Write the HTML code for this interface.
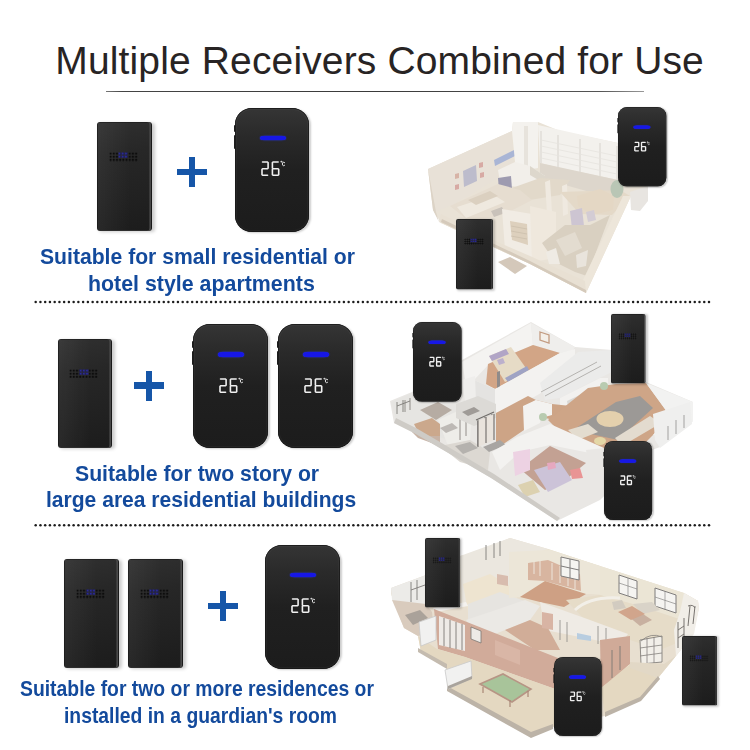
<!DOCTYPE html>
<html><head><meta charset="utf-8">
<style>
html,body{margin:0;padding:0;background:#fff;}
body{width:750px;height:750px;position:relative;overflow:hidden;font-family:"Liberation Sans",sans-serif;}
.houses{position:absolute;left:0;top:0;}
.title{position:absolute;left:55.3px;top:39.2px;font-size:39px;letter-spacing:0.14px;color:#282424;white-space:nowrap;line-height:44px;}
.uline{position:absolute;left:106px;top:90.7px;width:538px;height:1.6px;background:linear-gradient(90deg,#777,#444 3%,#3a3a3a 50%,#555 92%,#999);}
.blue{position:absolute;color:#134a9c;font-weight:bold;white-space:nowrap;}
.l21{font-size:21px;line-height:24px;}
.l19{font-size:19.3px;line-height:22px;}
.dots{position:absolute;left:34.2px;width:677px;height:3px;background:radial-gradient(circle at 1.3px 1.3px,#1a1a1a 0.95px,rgba(0,0,0,0.45) 1.4px,transparent 1.8px);background-size:4.742px 3px;}
.plus{position:absolute;width:30px;height:30px;}
.plus:before{content:"";position:absolute;left:0;top:11.8px;width:30px;height:6.3px;background:#1656a8;}
.plus:after{content:"";position:absolute;left:11.9px;top:0;width:6.4px;height:30px;background:#1656a8;}
.tx{position:absolute;width:54.6px;height:109px;border-radius:3px;transform-origin:0 0;
 background:linear-gradient(90deg,rgba(255,255,255,0.05),rgba(255,255,255,0) 60%),linear-gradient(170deg,#303030 0%,#272727 30%,#212121 70%,#1c1c1c 100%);
 box-shadow:2.5px 1px 3.5px rgba(0,0,0,0.2), inset -0.9px 0 0 #161616, inset -2.6px 0 0 #4a4a4a, inset 0 -1px 0 #2e2e2e, inset 0 0 0 0.6px #151515;}
.tx .grille{position:absolute;left:11.6px;top:30px;width:29px;height:9.6px;
 background:radial-gradient(circle at 1.6px 1.6px,#0d0d0d 0.75px,rgba(13,13,13,0.5) 1.1px,transparent 1.4px);background-size:3.2px 3.15px;}
.tx .led{position:absolute;left:21.2px;top:30px;width:9.6px;height:6.3px;background:rgba(40,40,160,0.18);}
.tx .led:before{content:"";position:absolute;left:0;top:0;width:9.6px;height:6.3px;
 background:radial-gradient(circle at 1.6px 1.6px,#2a2a95 0.75px,rgba(42,42,149,0.45) 1.1px,transparent 1.45px);background-size:3.2px 3.15px;}
.rx{position:absolute;width:74.6px;height:124.3px;border-radius:17px/16px;transform-origin:0 0;
 background:linear-gradient(180deg,#353535 0%,#2a2a2a 22%,#202020 50%,#1c1c1c 100%);
 box-shadow:1.5px 1px 2px rgba(0,0,0,0.2), inset 0 0 0 0.7px #161616, inset 0 0 0 2px rgba(255,255,255,0.03);}
.rx .bar{position:absolute;left:25px;top:28.4px;width:26px;height:4.6px;border-radius:5px/2.3px;background:#1717e6;box-shadow:0 0 1.2px 0.2px #2030f0;filter:blur(0.35px);}
.rx svg{position:absolute;left:25px;top:53.5px;width:26px;height:15px;overflow:visible;}
.rx .btn{position:absolute;left:-0.6px;width:1.5px;background:#1e1e1e;border-radius:1px;}
.rxs{border-radius:14px/14px;}
.rxs svg{left:24px;}
.rxs svg g{stroke-width:2.1;}
.rxs .bar{height:5px;top:28.5px;left:24.3px;}

</style></head>
<body>
<div class="title">Multiple Receivers Combined for Use</div>
<div class="uline"></div>
<svg class="houses" width="750" height="750" viewBox="0 0 750 750"><defs><filter id="bl" x="-5%" y="-5%" width="110%" height="110%"><feGaussianBlur stdDeviation="0.7"/></filter><filter id="db" x="-1%" y="-1%" width="102%" height="102%"><feGaussianBlur stdDeviation="0.35"/></filter></defs><g filter="url(#bl)"><g id="h1">
<!-- base silhouette -->
<polygon fill="#e9e2d6" points="428,169 512,131 513,122 538,122 560,131 618,143 640,170 648,186 631,196 586,293 530,264 441,223 433,210"/>
<!-- left wall face -->
<polygon fill="#e8e1d7" points="428,169 512,131 514,170 498,178 470,195 450,206 436,212"/>
<polygon fill="#dcd3c6" points="428,169 433,210 439,222 436,212"/>
<!-- wall art -->
<polygon fill="#bdbccc" points="463,171 476,165 477,181 464,187"/>
<polygon fill="#d7b3a6" points="455,174 459,173 459,178 455,179"/>
<polygon fill="#d7aaa4" points="455,185 459,184 459,189 455,190"/>
<polygon fill="#d7aaa4" points="479,163 483,162 483,167 479,168"/>
<polygon fill="#d7aaa4" points="480,173 484,172 484,177 480,178"/>
<!-- blue banner -->
<polygon fill="#a9b5d5" points="494,160 516,149 517,155 495,166"/>
<!-- column -->
<polygon fill="#f4f2ee" points="512,131 513,122 538,122 538,168 516,172"/>
<polygon fill="#e7e3dc" points="524,126 528,126 528,170 524,171"/>
<!-- back wall windows -->
<polygon fill="#f3f1ed" points="538,125 618,143 618,180 560,168 540,163"/>
<g stroke="#dedad4" stroke-width="1.3"><path d="M541,131V163M558,135V167M580,139V172M600,143V176M617,146V180"/></g>
<g stroke="#e6e3de" stroke-width="0.8"><path d="M541,140L617,156M541,146L617,162M541,152L617,168M541,158L617,174"/></g>
<polygon fill="#ddd6cc" points="540,163 618,180 618,196 590,192 540,178"/>
<!-- bed area -->
<polygon fill="#f2efea" points="498,170 515,162 530,166 545,176 528,188 510,186 500,182"/>
<polygon fill="#ddd7cc" points="530,166 545,176 545,184 530,175"/>
<!-- TV -->
<polygon fill="#9e9bb0" points="498,178 511,176 512,189 499,191"/>
<!-- floor under bed/back -->
<polygon fill="#e2d9ca" points="512,188 540,178 570,180 560,195 530,200 515,197"/>
<!-- living room -->
<polygon fill="#e6ddd0" points="450,206 498,184 520,190 532,200 505,214 470,222"/>
<polygon fill="#efe9df" points="457,207 494,195 505,202 466,218"/>
<polygon fill="#c9c2ba" points="491,211 502,207 505,213 494,217"/>
<polygon fill="#dbd0c0" points="468,200 490,191 498,196 476,205"/>
<!-- door partition with slats -->
<polygon fill="#f1ece4" points="502,209 532,214 533,262 505,250"/>
<polygon fill="#ddd0bd" points="510,221 527,224 528,245 512,240"/>
<g stroke="#ccbfac" stroke-width="0.8"><path d="M511,226L527,229M511,231L527,234M511,236L527,239"/></g>
<!-- partitions (upper middle) -->
<polygon fill="#efe9e0" points="545,182 550,180 552,212 547,214"/>
<polygon fill="#efe9e0" points="562,186 567,184 568,214 563,216"/>
<!-- right-upper floor -->
<polygon fill="#e4d9c8" points="560,192 620,190 630,196 612,215 580,214"/>
<!-- kitchen table -->
<polygon fill="#e4d7c4" points="577,196 600,189 614,196 613,210 592,215 578,206"/>
<polygon fill="#cdc5d2" points="570,211 582,208 584,226 572,229"/>
<polygon fill="#d3ccd4" points="586,212 594,210 596,220 588,222"/>
<!-- left lower floor cream -->
<polygon fill="#efe8dd" points="530,206 556,212 556,258 532,262"/>
<!-- inner room lower right -->
<polygon fill="#d9d0c1" points="542,243 565,225 590,225 610,215 587,276 575,272 555,262"/>
<polygon fill="#e3dcd0" points="556,240 575,232 582,248 565,256"/>
<polygon fill="#efebe4" points="546,252 556,248 560,264 549,264"/>
<polygon fill="#e9e4dc" points="576,255 588,250 586,266 577,268"/>
<!-- plant -->
<ellipse cx="617" cy="189" rx="6.5" ry="9" fill="#b9c6b5"/>
<!-- right outer wall -->
<polygon fill="#ede6da" points="623,196 631,196 586,293 583,280"/>
<polygon fill="#e8e5e1" points="630,192 648,186 648,201 640,211 631,210"/>
<!-- front walls -->
<polygon fill="#e8e0d3" points="439,222 441,214 500,243 530,256 585,281 586,293 530,264"/>
<polygon fill="#d5cabb" points="441,222 530,264 586,293 586,290 530,261 442,219"/>
<!-- door mat -->
<polygon fill="#d4c8ba" points="498,262 510,257 527,266 515,274"/>
</g>
<g id="h2">
<!-- base silhouette -->
<polygon fill="#e9e7e4" points="390,401 412,392 462,360 531,322 575,347 612,350 646,382 693,402 693,421 660,447 652,450 600,500 557,521 491,478 438,447 414,433 394,423"/>
<!-- back bedroom -->
<polygon fill="#f4f3f1" points="462,362 531,323 533,345 490,363 474,380 466,384"/>
<polygon fill="#efeeec" points="531,323 575,347 573,350 560,353 533,345"/>
<polygon fill="#f3efe9" stroke="#c39c82" stroke-width="1.3" points="540,332 549,335 549,343 540,340"/>
<polygon fill="#d2a586" points="488,364 533,345 560,353 495,389 486,384"/>
<polygon fill="#e6dbc6" points="489,356 511,347 528,371 505,382"/>
<polygon fill="#9fa3c4" points="505,378 527,366 529,370 508,382"/>
<polygon fill="#b1a5c6" points="489,356 506,349 509,354 492,361"/>
<polygon fill="#bcb0cc" points="497,360 503,358 505,363 499,365"/>
<polygon fill="#8f8b8a" points="497,372 500,371 500,392 497,391"/>
<!-- bedroom walls front -->
<polygon fill="#f3f2f0" points="474,380 495,389 560,353 575,349 575,380 560,382 534,397 496,413 474,403"/>
<polygon fill="#e4e3e1" points="474,380 495,389 495,413 474,403"/>
<!-- left block near receiver A -->
<polygon fill="#efeeec" points="462,380 475,376 476,402 466,408"/>
<!-- stairs area -->
<polygon fill="#ebebea" points="540,383 578,352 612,350 612,372 585,385 560,398 545,400"/>
<g stroke="#b5b3b0" stroke-width="1" fill="none"><path d="M541,392 L597,362"/><path d="M545,396 L601,366"/></g>
<!-- white TV wall -->
<polygon fill="#f2f1ef" points="560,398 600,378 608,378 608,395 570,414 560,410"/>
<polygon fill="#d9d8d5" points="567,401 584,393 585,400 568,407"/>
<!-- central hallway wood -->
<polygon fill="#cda486" points="474,403 496,413 528,396 536,400 524,407 524,430 502,445 496,447 496,418 478,410"/>
<polygon fill="#cda486" points="536,400 552,404 580,407 580,426 541,417"/>
<!-- partition white wall (center) -->
<polygon fill="#f3f2f0" points="523,406 536,400 552,404 552,415 541,418 540,423 524,431"/>
<!-- main living room wood -->
<polygon fill="#cea587" points="548,420 588,388 616,384 646,383 670,416 653,435 640,448 600,450 560,432"/>
<!-- rug -->
<polygon fill="#9c9996" points="573,430 616,402 640,396 653,408 618,440"/>
<ellipse cx="610" cy="419" rx="13.5" ry="8" fill="#e4d0ad"/>
<!-- sofa -->
<polygon fill="#e3dbcf" points="615,438 650,416 656,420 656,426 622,446"/>
<polygon fill="#e3dccf" points="568,430 588,424 598,432 578,440"/>
<ellipse cx="600" cy="441" rx="6" ry="4" fill="#e4d7a6"/>
<!-- right white walls/terrace -->
<polygon fill="#f2f2f1" points="646,383 693,402 693,421 668,436 653,435 670,416"/>
<polygon fill="#efefee" points="653,414 690,402 692,424 660,448 655,440"/>
<g stroke="#9a9896" stroke-width="0.9"><line x1="676" y1="420" x2="676" y2="434"/><line x1="684" y1="415" x2="684" y2="428"/><line x1="668" y1="426" x2="668" y2="440"/></g>
<!-- left rooms -->
<polygon fill="#e6e5e2" points="391,402 412,393 440,404 452,400 470,404 470,430 450,440 420,432 396,420"/>
<polygon fill="#b6aca3" points="420,410 438,402 452,410 436,420"/>
<polygon fill="#c8b3a5" points="412,432 430,424 440,432 440,446 418,438"/>
<polygon fill="#eeede9" points="438,420 460,410 472,414 470,440 448,446"/>
<g stroke="#88857f" stroke-width="0.9" fill="none"><path d="M460,418L460,440"/><path d="M466,414L466,436"/><path d="M405,400L405,412"/><path d="M410,398L410,410"/></g>
<polygon fill="#dcd8d2" points="440,446 470,440 490,452 488,470 460,462"/>
<polygon fill="#b5b2ae" points="455,446 470,442 478,448 463,454"/>
<!-- kitchen details -->
<polygon fill="#dcdad6" points="456,404 478,396 496,404 496,418 474,426 456,418"/>
<polygon fill="#9f9b97" points="462,412 474,407 480,411 468,416"/>
<g stroke="#6f6c69" stroke-width="1.1" fill="none"><path d="M478,420V446M485,417V443M492,414V440M476,420L494,412"/></g>
<polygon fill="#e9e3dc" points="478,421 494,414 494,440 478,447"/>
<g stroke="#6f6c69" stroke-width="1.1" fill="none"><path d="M478,421V447M486,417V443M494,414V440"/></g>
<polygon fill="#a8a5a2" points="483,447 500,440 506,445 489,452"/>
<polygon fill="#bdb9b5" points="440,428 452,423 458,428 446,433"/>
<g stroke="#7d7a77" stroke-width="0.9" fill="none"><path d="M397,402L397,414M403,400L403,412M397,406L410,401"/></g>
<polygon fill="#cba88c" points="414,424 432,418 440,424 440,436 420,436"/>
<!-- bottom bedroom -->
<polygon fill="#f3f2f0" points="492,452 517,437 550,424 604,448 600,455 550,445 520,452 500,470"/>
<polygon fill="#c3a193" points="520,469 550,446 586,463 563,482 545,490"/>
<polygon fill="#edd2e3" points="513,452 530,449 530,470 515,476"/>
<polygon fill="#ccc3d8" points="534,470 560,462 572,480 548,492"/>
<polygon fill="#e99494" points="570,470 580,468 583,478 572,479"/>
<polygon fill="#e6a8c0" points="547,463 555,462 556,468 548,470"/>
<polygon fill="#e9e7e4" points="586,450 604,448 604,470 590,474"/>
<polygon fill="#dcd1b0" points="518,485 533,480 540,492 525,497"/>
<!-- bottom-left outer edge shading -->
<polygon fill="#cecbc6" points="394,423 414,433 438,447 491,478 557,521 560,518 494,474 440,442 416,428 396,418"/>
<!-- plants -->
<ellipse cx="604" cy="386" rx="4" ry="4" fill="#b8cbb0"/>
<ellipse cx="543" cy="417" rx="4" ry="4" fill="#b8cbb0"/>
</g>
<g id="h3">
<!-- base silhouette -->
<polygon fill="#e8dfd0" points="391,588 426,575 460,556 471,554 510,538 548,549 600,566 684,593 698,601 699,608 693,634 676,656 658,678 627,664 605,716 553,726 531,736 447,690 447,668 421,652 418,636 404,628 391,594"/>
<!-- left room -->
<polygon fill="#ecebe8" points="391,588 426,575 426,604 405,612 392,600"/>
<g stroke="#7e7b78" stroke-width="0.9" fill="none"><path d="M411,582L411,602M417,580L417,600M411,590L425,585"/></g>
<polygon fill="#d9cbbd" points="392,600 426,604 432,612 434,630 418,636 404,628"/>
<polygon fill="#aaa29a" points="405,615 420,610 428,618 413,625"/>
<!-- left wing white rooms -->
<polygon fill="#ebe7df" points="460,556 510,538 548,549 540,568 510,585 490,600 462,606"/>
<g stroke="#7e7b78" stroke-width="0.9" fill="none"><path d="M486,545L486,560M494,543L494,558M500,541L500,556"/></g>
<polygon fill="#eee4d0" points="463,584 490,574 517,590 517,606 490,612 468,612"/>
<polygon fill="#d8bcae" points="497,574 508,576 508,586 497,584"/>
<polygon fill="#e6e4e0" points="468,604 500,592 527,602 527,622 492,630 468,620"/>
<!-- right wing back wall -->
<polygon fill="#ebe5d5" points="513,560 548,549 600,566 684,593 698,601 688,622 640,606 600,595 560,590 530,596"/>
<g fill="#f5f4f1" stroke="#7f7d7c" stroke-width="1">
<polygon points="562,556 579,561 579,577 562,572"/>
<polygon points="619,575 637,581 637,599 619,593"/>
<polygon points="655,588 676,595 676,613 655,606"/>
</g>
<g stroke="#8a8886" stroke-width="0.7"><path d="M570,558V575M628,578V596M665,591V610M562,564H579M619,583L637,589M655,597L676,604"/></g>
<!-- staircase room -->
<polygon fill="#ece6d8" points="509,552 549,550 600,566 600,594 586,594 545,581 520,597 509,598"/>
<polygon fill="#d8b5a0" points="528,563 548,560 580,574 581,591 545,581 528,580"/>
<g stroke="#f1ebe2" stroke-width="0.9"><path d="M534,562V574M540,561V576M552,563V580M560,566V583M568,569V586M575,572V589"/></g>
<polygon fill="#cea084" points="520,597 545,581 586,594 564,607 540,602"/>
<g fill="#f5f4f1" stroke="#7f7d7c" stroke-width="1"><polygon points="561,557 579,561 579,580 561,576"/><path d="M570,559V578M561,566L579,570" fill="none"/></g>
<!-- right wing floor -->
<polygon fill="#e6dcc8" points="566,600 600,595 640,606 688,622 684,640 660,650 630,640 590,625"/>
<path d="M575,610 Q590,596 620,598" stroke="#f2efe8" stroke-width="3" fill="none"/>
<polygon fill="#c8b0a0" points="628,616 640,612 652,620 640,626"/>
<polygon fill="#d2cbc0" points="612,602 622,600 626,608 614,610"/>
<polygon fill="#d9d3c8" points="633,604 652,602 660,610 642,614"/>
<!-- right end -->
<polygon fill="#f1eee8" points="684,593 698,601 699,608 694,634 684,646 676,656 674,630 680,612"/>
<g stroke="#77736f" stroke-width="1" fill="none"><path d="M690,606L688,626M695,606L693,624M688,606Q693,604 695,608M678,622L678,648M684,618L684,642M678,630L684,626M678,638L684,634"/></g>
<polygon fill="#f2efe9" stroke="#85817d" stroke-width="0.9" points="640,640 662,636 662,662 641,664"/>
<g stroke="#85817d" stroke-width="0.8" fill="none"><path d="M647,638V663M654,637V663M640,648L662,645M640,656L662,653M641,641Q651,632 662,637"/></g>
<polygon fill="#d1a58c" points="618,612 632,606 645,614 631,620"/>
<!-- middle wing rooms -->
<polygon fill="#ebe9e5" points="466,620 490,612 525,600 540,606 530,620 505,630 480,640"/>
<polygon fill="#efebe5" points="540,602 590,620 628,634 620,645 575,636 545,630"/>
<polygon fill="#d1ad98" points="505,630 530,620 548,628 560,650 535,650"/>
<polygon fill="#d8b4a4" points="542,612 553,614 553,630 542,628"/>
<polygon fill="#b8cde0" points="577,633 591,636 591,641 577,639"/>
<g stroke="#8a8886" stroke-width="0.8"><path d="M560,620V640M567,622V642M598,626V644M606,628V646"/></g>
<polygon fill="#f4f2ef" points="433,608 466,602 468,606 436,612"/>
<!-- brick front wall -->
<polygon fill="#d1ab9a" points="434,609 558,658 558,690 465,657 438,649"/>
<polygon fill="#eeeae6" points="439,616 465,625 465,651 439,645"/>
<g stroke="#7c7874" stroke-width="0.9"><path d="M444,618V646M450,620V648M456,622V649M462,624V650"/></g>
<polygon fill="#eeeae6" stroke="#7c7874" stroke-width="0.8" points="471,627 481,631 481,643 471,639"/>
<polygon fill="#d9b6a6" points="495,640 520,650 520,665 495,655"/>
<!-- right brick wall -->
<polygon fill="#d0aa98" points="600,640 630,636 630,664 612,680 601,688"/>
<g stroke="#7c7874" stroke-width="0.9"><path d="M612,650V678M620,646V670"/></g>
<!-- terrace -->
<polygon fill="#e4d8c1" points="418,636 437,649 465,657 558,690 556,726 531,734 447,690 447,668 421,652"/>
<polygon fill="#e4d8c1" points="601,688 630,664 658,678 640,700 605,716"/>
<polygon fill="#e2d8c6" points="630,662 664,664 676,656 658,678 630,668"/>
<!-- terrace edges -->
<polygon fill="#bcb3a7" points="447,686 531,732 553,724 553,729 531,738 447,691"/>
<polygon fill="#bcb3a7" points="605,712 640,697 658,676 660,679 641,701 605,717"/>
<polygon fill="#c4bbaf" points="418,648 447,664 447,669 418,652"/>
<!-- billiard table -->
<polygon fill="#a8c49a" points="480,684 503,674 531,689 512,702"/>
<polygon fill="none" stroke="#b79585" stroke-width="1.6" points="480,684 503,674 531,689 512,702"/>
<g stroke="#a98776" stroke-width="1.2"><path d="M483,687V693M510,700V707M528,691V697"/></g>
<!-- balcony glass -->
<polygon fill="#f1f1f0" stroke="#c9c9c9" stroke-width="0.8" points="445,670 471,661 472,678 448,689"/>
<polygon fill="#a9a39c" points="448,686 472,676 472,679 448,689"/>
<polygon fill="#f1f1f0" stroke="#c9c9c9" stroke-width="0.8" points="419,622 436,616 436,640 421,646"/>
</g>
</g></svg>
<div class="tx" style="left:97px;top:122px;"><div class="grille"></div><div class="led"></div></div>
<div class="plus" style="left:176.8px;top:157.4px;"></div>
<div class="rx" style="left:234.8px;top:107.5px;"><div class="btn" style="top:17px;height:7px"></div><div class="btn" style="top:27px;height:14px"></div><div class="bar"></div><svg viewBox="0 0 26 15"><g fill="none" stroke="#f0f0f0" stroke-width="1.6" stroke-linecap="round"><path d="M2.55,1.0L7.55,1.0M8.1,1.55L8.1,7.15M2.55,7.7L7.55,7.7M2.0,8.25L2.0,13.75M2.55,14.3L7.55,14.3M12.950000000000001,1.0L18.15,1.0M12.4,1.55L12.4,7.15M12.950000000000001,7.7L18.15,7.7M12.4,8.25L12.4,13.75M18.7,8.25L18.7,13.75M12.950000000000001,14.3L18.15,14.3"/><circle cx="21.3" cy="0.7" r="0.55" stroke-width="0.75"/><path d="M24.7,1.7Q24,1 23.2,1.2Q22.3,1.6 22.4,3.1Q22.5,4.6 23.4,4.7Q24.1,4.8 24.7,4.2" stroke-width="0.95"/></g></svg></div>
<svg class="houses" width="750" height="750" style="pointer-events:none"><g fill="#1e1e1e" filter="url(#db)"><circle cx="35.70" cy="302.1" r="1.25"/><circle cx="40.44" cy="302.1" r="1.25"/><circle cx="45.18" cy="302.1" r="1.25"/><circle cx="49.92" cy="302.1" r="1.25"/><circle cx="54.67" cy="302.1" r="1.25"/><circle cx="59.41" cy="302.1" r="1.25"/><circle cx="64.15" cy="302.1" r="1.25"/><circle cx="68.89" cy="302.1" r="1.25"/><circle cx="73.63" cy="302.1" r="1.25"/><circle cx="78.37" cy="302.1" r="1.25"/><circle cx="83.12" cy="302.1" r="1.25"/><circle cx="87.86" cy="302.1" r="1.25"/><circle cx="92.60" cy="302.1" r="1.25"/><circle cx="97.34" cy="302.1" r="1.25"/><circle cx="102.08" cy="302.1" r="1.25"/><circle cx="106.82" cy="302.1" r="1.25"/><circle cx="111.56" cy="302.1" r="1.25"/><circle cx="116.31" cy="302.1" r="1.25"/><circle cx="121.05" cy="302.1" r="1.25"/><circle cx="125.79" cy="302.1" r="1.25"/><circle cx="130.53" cy="302.1" r="1.25"/><circle cx="135.27" cy="302.1" r="1.25"/><circle cx="140.01" cy="302.1" r="1.25"/><circle cx="144.75" cy="302.1" r="1.25"/><circle cx="149.50" cy="302.1" r="1.25"/><circle cx="154.24" cy="302.1" r="1.25"/><circle cx="158.98" cy="302.1" r="1.25"/><circle cx="163.72" cy="302.1" r="1.25"/><circle cx="168.46" cy="302.1" r="1.25"/><circle cx="173.20" cy="302.1" r="1.25"/><circle cx="177.94" cy="302.1" r="1.25"/><circle cx="182.69" cy="302.1" r="1.25"/><circle cx="187.43" cy="302.1" r="1.25"/><circle cx="192.17" cy="302.1" r="1.25"/><circle cx="196.91" cy="302.1" r="1.25"/><circle cx="201.65" cy="302.1" r="1.25"/><circle cx="206.39" cy="302.1" r="1.25"/><circle cx="211.14" cy="302.1" r="1.25"/><circle cx="215.88" cy="302.1" r="1.25"/><circle cx="220.62" cy="302.1" r="1.25"/><circle cx="225.36" cy="302.1" r="1.25"/><circle cx="230.10" cy="302.1" r="1.25"/><circle cx="234.84" cy="302.1" r="1.25"/><circle cx="239.58" cy="302.1" r="1.25"/><circle cx="244.33" cy="302.1" r="1.25"/><circle cx="249.07" cy="302.1" r="1.25"/><circle cx="253.81" cy="302.1" r="1.25"/><circle cx="258.55" cy="302.1" r="1.25"/><circle cx="263.29" cy="302.1" r="1.25"/><circle cx="268.03" cy="302.1" r="1.25"/><circle cx="272.78" cy="302.1" r="1.25"/><circle cx="277.52" cy="302.1" r="1.25"/><circle cx="282.26" cy="302.1" r="1.25"/><circle cx="287.00" cy="302.1" r="1.25"/><circle cx="291.74" cy="302.1" r="1.25"/><circle cx="296.48" cy="302.1" r="1.25"/><circle cx="301.22" cy="302.1" r="1.25"/><circle cx="305.97" cy="302.1" r="1.25"/><circle cx="310.71" cy="302.1" r="1.25"/><circle cx="315.45" cy="302.1" r="1.25"/><circle cx="320.19" cy="302.1" r="1.25"/><circle cx="324.93" cy="302.1" r="1.25"/><circle cx="329.67" cy="302.1" r="1.25"/><circle cx="334.41" cy="302.1" r="1.25"/><circle cx="339.16" cy="302.1" r="1.25"/><circle cx="343.90" cy="302.1" r="1.25"/><circle cx="348.64" cy="302.1" r="1.25"/><circle cx="353.38" cy="302.1" r="1.25"/><circle cx="358.12" cy="302.1" r="1.25"/><circle cx="362.86" cy="302.1" r="1.25"/><circle cx="367.61" cy="302.1" r="1.25"/><circle cx="372.35" cy="302.1" r="1.25"/><circle cx="377.09" cy="302.1" r="1.25"/><circle cx="381.83" cy="302.1" r="1.25"/><circle cx="386.57" cy="302.1" r="1.25"/><circle cx="391.31" cy="302.1" r="1.25"/><circle cx="396.05" cy="302.1" r="1.25"/><circle cx="400.80" cy="302.1" r="1.25"/><circle cx="405.54" cy="302.1" r="1.25"/><circle cx="410.28" cy="302.1" r="1.25"/><circle cx="415.02" cy="302.1" r="1.25"/><circle cx="419.76" cy="302.1" r="1.25"/><circle cx="424.50" cy="302.1" r="1.25"/><circle cx="429.24" cy="302.1" r="1.25"/><circle cx="433.99" cy="302.1" r="1.25"/><circle cx="438.73" cy="302.1" r="1.25"/><circle cx="443.47" cy="302.1" r="1.25"/><circle cx="448.21" cy="302.1" r="1.25"/><circle cx="452.95" cy="302.1" r="1.25"/><circle cx="457.69" cy="302.1" r="1.25"/><circle cx="462.44" cy="302.1" r="1.25"/><circle cx="467.18" cy="302.1" r="1.25"/><circle cx="471.92" cy="302.1" r="1.25"/><circle cx="476.66" cy="302.1" r="1.25"/><circle cx="481.40" cy="302.1" r="1.25"/><circle cx="486.14" cy="302.1" r="1.25"/><circle cx="490.88" cy="302.1" r="1.25"/><circle cx="495.63" cy="302.1" r="1.25"/><circle cx="500.37" cy="302.1" r="1.25"/><circle cx="505.11" cy="302.1" r="1.25"/><circle cx="509.85" cy="302.1" r="1.25"/><circle cx="514.59" cy="302.1" r="1.25"/><circle cx="519.33" cy="302.1" r="1.25"/><circle cx="524.07" cy="302.1" r="1.25"/><circle cx="528.82" cy="302.1" r="1.25"/><circle cx="533.56" cy="302.1" r="1.25"/><circle cx="538.30" cy="302.1" r="1.25"/><circle cx="543.04" cy="302.1" r="1.25"/><circle cx="547.78" cy="302.1" r="1.25"/><circle cx="552.52" cy="302.1" r="1.25"/><circle cx="557.27" cy="302.1" r="1.25"/><circle cx="562.01" cy="302.1" r="1.25"/><circle cx="566.75" cy="302.1" r="1.25"/><circle cx="571.49" cy="302.1" r="1.25"/><circle cx="576.23" cy="302.1" r="1.25"/><circle cx="580.97" cy="302.1" r="1.25"/><circle cx="585.71" cy="302.1" r="1.25"/><circle cx="590.46" cy="302.1" r="1.25"/><circle cx="595.20" cy="302.1" r="1.25"/><circle cx="599.94" cy="302.1" r="1.25"/><circle cx="604.68" cy="302.1" r="1.25"/><circle cx="609.42" cy="302.1" r="1.25"/><circle cx="614.16" cy="302.1" r="1.25"/><circle cx="618.90" cy="302.1" r="1.25"/><circle cx="623.65" cy="302.1" r="1.25"/><circle cx="628.39" cy="302.1" r="1.25"/><circle cx="633.13" cy="302.1" r="1.25"/><circle cx="637.87" cy="302.1" r="1.25"/><circle cx="642.61" cy="302.1" r="1.25"/><circle cx="647.35" cy="302.1" r="1.25"/><circle cx="652.10" cy="302.1" r="1.25"/><circle cx="656.84" cy="302.1" r="1.25"/><circle cx="661.58" cy="302.1" r="1.25"/><circle cx="666.32" cy="302.1" r="1.25"/><circle cx="671.06" cy="302.1" r="1.25"/><circle cx="675.80" cy="302.1" r="1.25"/><circle cx="680.54" cy="302.1" r="1.25"/><circle cx="685.29" cy="302.1" r="1.25"/><circle cx="690.03" cy="302.1" r="1.25"/><circle cx="694.77" cy="302.1" r="1.25"/><circle cx="699.51" cy="302.1" r="1.25"/><circle cx="704.25" cy="302.1" r="1.25"/><circle cx="708.99" cy="302.1" r="1.25"/></g></svg>
<div class="rx rxs" style="left:618.3px;top:107px;transform:scale(0.646,0.642);"><div class="btn" style="top:17px;height:7px"></div><div class="btn" style="top:27px;height:14px"></div><div class="bar"></div><svg viewBox="0 0 26 15"><g fill="none" stroke="#f0f0f0" stroke-width="1.6" stroke-linecap="round"><path d="M2.55,1.0L7.55,1.0M8.1,1.55L8.1,7.15M2.55,7.7L7.55,7.7M2.0,8.25L2.0,13.75M2.55,14.3L7.55,14.3M12.950000000000001,1.0L18.15,1.0M12.4,1.55L12.4,7.15M12.950000000000001,7.7L18.15,7.7M12.4,8.25L12.4,13.75M18.7,8.25L18.7,13.75M12.950000000000001,14.3L18.15,14.3"/><circle cx="21.3" cy="0.7" r="0.55" stroke-width="0.75"/><path d="M24.7,1.7Q24,1 23.2,1.2Q22.3,1.6 22.4,3.1Q22.5,4.6 23.4,4.7Q24.1,4.8 24.7,4.2" stroke-width="0.95"/></g></svg></div>
<div class="tx" style="left:455.6px;top:219px;transform:scale(0.674,0.647);"><div class="grille"></div><div class="led"></div></div>
<div class="tx" style="left:57.8px;top:338.5px;"><div class="grille"></div><div class="led"></div></div>
<div class="plus" style="left:134.1px;top:370.7px;"></div>
<div class="rx" style="left:193px;top:324px;"><div class="btn" style="top:17px;height:7px"></div><div class="btn" style="top:27px;height:14px"></div><div class="bar"></div><svg viewBox="0 0 26 15"><g fill="none" stroke="#f0f0f0" stroke-width="1.6" stroke-linecap="round"><path d="M2.55,1.0L7.55,1.0M8.1,1.55L8.1,7.15M2.55,7.7L7.55,7.7M2.0,8.25L2.0,13.75M2.55,14.3L7.55,14.3M12.950000000000001,1.0L18.15,1.0M12.4,1.55L12.4,7.15M12.950000000000001,7.7L18.15,7.7M12.4,8.25L12.4,13.75M18.7,8.25L18.7,13.75M12.950000000000001,14.3L18.15,14.3"/><circle cx="21.3" cy="0.7" r="0.55" stroke-width="0.75"/><path d="M24.7,1.7Q24,1 23.2,1.2Q22.3,1.6 22.4,3.1Q22.5,4.6 23.4,4.7Q24.1,4.8 24.7,4.2" stroke-width="0.95"/></g></svg></div>
<div class="rx" style="left:278px;top:324px;"><div class="btn" style="top:17px;height:7px"></div><div class="btn" style="top:27px;height:14px"></div><div class="bar"></div><svg viewBox="0 0 26 15"><g fill="none" stroke="#f0f0f0" stroke-width="1.6" stroke-linecap="round"><path d="M2.55,1.0L7.55,1.0M8.1,1.55L8.1,7.15M2.55,7.7L7.55,7.7M2.0,8.25L2.0,13.75M2.55,14.3L7.55,14.3M12.950000000000001,1.0L18.15,1.0M12.4,1.55L12.4,7.15M12.950000000000001,7.7L18.15,7.7M12.4,8.25L12.4,13.75M18.7,8.25L18.7,13.75M12.950000000000001,14.3L18.15,14.3"/><circle cx="21.3" cy="0.7" r="0.55" stroke-width="0.75"/><path d="M24.7,1.7Q24,1 23.2,1.2Q22.3,1.6 22.4,3.1Q22.5,4.6 23.4,4.7Q24.1,4.8 24.7,4.2" stroke-width="0.95"/></g></svg></div>
<svg class="houses" width="750" height="750" style="pointer-events:none"><g fill="#1e1e1e" filter="url(#db)"><circle cx="35.70" cy="525.2" r="1.25"/><circle cx="40.44" cy="525.2" r="1.25"/><circle cx="45.18" cy="525.2" r="1.25"/><circle cx="49.92" cy="525.2" r="1.25"/><circle cx="54.67" cy="525.2" r="1.25"/><circle cx="59.41" cy="525.2" r="1.25"/><circle cx="64.15" cy="525.2" r="1.25"/><circle cx="68.89" cy="525.2" r="1.25"/><circle cx="73.63" cy="525.2" r="1.25"/><circle cx="78.37" cy="525.2" r="1.25"/><circle cx="83.12" cy="525.2" r="1.25"/><circle cx="87.86" cy="525.2" r="1.25"/><circle cx="92.60" cy="525.2" r="1.25"/><circle cx="97.34" cy="525.2" r="1.25"/><circle cx="102.08" cy="525.2" r="1.25"/><circle cx="106.82" cy="525.2" r="1.25"/><circle cx="111.56" cy="525.2" r="1.25"/><circle cx="116.31" cy="525.2" r="1.25"/><circle cx="121.05" cy="525.2" r="1.25"/><circle cx="125.79" cy="525.2" r="1.25"/><circle cx="130.53" cy="525.2" r="1.25"/><circle cx="135.27" cy="525.2" r="1.25"/><circle cx="140.01" cy="525.2" r="1.25"/><circle cx="144.75" cy="525.2" r="1.25"/><circle cx="149.50" cy="525.2" r="1.25"/><circle cx="154.24" cy="525.2" r="1.25"/><circle cx="158.98" cy="525.2" r="1.25"/><circle cx="163.72" cy="525.2" r="1.25"/><circle cx="168.46" cy="525.2" r="1.25"/><circle cx="173.20" cy="525.2" r="1.25"/><circle cx="177.94" cy="525.2" r="1.25"/><circle cx="182.69" cy="525.2" r="1.25"/><circle cx="187.43" cy="525.2" r="1.25"/><circle cx="192.17" cy="525.2" r="1.25"/><circle cx="196.91" cy="525.2" r="1.25"/><circle cx="201.65" cy="525.2" r="1.25"/><circle cx="206.39" cy="525.2" r="1.25"/><circle cx="211.14" cy="525.2" r="1.25"/><circle cx="215.88" cy="525.2" r="1.25"/><circle cx="220.62" cy="525.2" r="1.25"/><circle cx="225.36" cy="525.2" r="1.25"/><circle cx="230.10" cy="525.2" r="1.25"/><circle cx="234.84" cy="525.2" r="1.25"/><circle cx="239.58" cy="525.2" r="1.25"/><circle cx="244.33" cy="525.2" r="1.25"/><circle cx="249.07" cy="525.2" r="1.25"/><circle cx="253.81" cy="525.2" r="1.25"/><circle cx="258.55" cy="525.2" r="1.25"/><circle cx="263.29" cy="525.2" r="1.25"/><circle cx="268.03" cy="525.2" r="1.25"/><circle cx="272.78" cy="525.2" r="1.25"/><circle cx="277.52" cy="525.2" r="1.25"/><circle cx="282.26" cy="525.2" r="1.25"/><circle cx="287.00" cy="525.2" r="1.25"/><circle cx="291.74" cy="525.2" r="1.25"/><circle cx="296.48" cy="525.2" r="1.25"/><circle cx="301.22" cy="525.2" r="1.25"/><circle cx="305.97" cy="525.2" r="1.25"/><circle cx="310.71" cy="525.2" r="1.25"/><circle cx="315.45" cy="525.2" r="1.25"/><circle cx="320.19" cy="525.2" r="1.25"/><circle cx="324.93" cy="525.2" r="1.25"/><circle cx="329.67" cy="525.2" r="1.25"/><circle cx="334.41" cy="525.2" r="1.25"/><circle cx="339.16" cy="525.2" r="1.25"/><circle cx="343.90" cy="525.2" r="1.25"/><circle cx="348.64" cy="525.2" r="1.25"/><circle cx="353.38" cy="525.2" r="1.25"/><circle cx="358.12" cy="525.2" r="1.25"/><circle cx="362.86" cy="525.2" r="1.25"/><circle cx="367.61" cy="525.2" r="1.25"/><circle cx="372.35" cy="525.2" r="1.25"/><circle cx="377.09" cy="525.2" r="1.25"/><circle cx="381.83" cy="525.2" r="1.25"/><circle cx="386.57" cy="525.2" r="1.25"/><circle cx="391.31" cy="525.2" r="1.25"/><circle cx="396.05" cy="525.2" r="1.25"/><circle cx="400.80" cy="525.2" r="1.25"/><circle cx="405.54" cy="525.2" r="1.25"/><circle cx="410.28" cy="525.2" r="1.25"/><circle cx="415.02" cy="525.2" r="1.25"/><circle cx="419.76" cy="525.2" r="1.25"/><circle cx="424.50" cy="525.2" r="1.25"/><circle cx="429.24" cy="525.2" r="1.25"/><circle cx="433.99" cy="525.2" r="1.25"/><circle cx="438.73" cy="525.2" r="1.25"/><circle cx="443.47" cy="525.2" r="1.25"/><circle cx="448.21" cy="525.2" r="1.25"/><circle cx="452.95" cy="525.2" r="1.25"/><circle cx="457.69" cy="525.2" r="1.25"/><circle cx="462.44" cy="525.2" r="1.25"/><circle cx="467.18" cy="525.2" r="1.25"/><circle cx="471.92" cy="525.2" r="1.25"/><circle cx="476.66" cy="525.2" r="1.25"/><circle cx="481.40" cy="525.2" r="1.25"/><circle cx="486.14" cy="525.2" r="1.25"/><circle cx="490.88" cy="525.2" r="1.25"/><circle cx="495.63" cy="525.2" r="1.25"/><circle cx="500.37" cy="525.2" r="1.25"/><circle cx="505.11" cy="525.2" r="1.25"/><circle cx="509.85" cy="525.2" r="1.25"/><circle cx="514.59" cy="525.2" r="1.25"/><circle cx="519.33" cy="525.2" r="1.25"/><circle cx="524.07" cy="525.2" r="1.25"/><circle cx="528.82" cy="525.2" r="1.25"/><circle cx="533.56" cy="525.2" r="1.25"/><circle cx="538.30" cy="525.2" r="1.25"/><circle cx="543.04" cy="525.2" r="1.25"/><circle cx="547.78" cy="525.2" r="1.25"/><circle cx="552.52" cy="525.2" r="1.25"/><circle cx="557.27" cy="525.2" r="1.25"/><circle cx="562.01" cy="525.2" r="1.25"/><circle cx="566.75" cy="525.2" r="1.25"/><circle cx="571.49" cy="525.2" r="1.25"/><circle cx="576.23" cy="525.2" r="1.25"/><circle cx="580.97" cy="525.2" r="1.25"/><circle cx="585.71" cy="525.2" r="1.25"/><circle cx="590.46" cy="525.2" r="1.25"/><circle cx="595.20" cy="525.2" r="1.25"/><circle cx="599.94" cy="525.2" r="1.25"/><circle cx="604.68" cy="525.2" r="1.25"/><circle cx="609.42" cy="525.2" r="1.25"/><circle cx="614.16" cy="525.2" r="1.25"/><circle cx="618.90" cy="525.2" r="1.25"/><circle cx="623.65" cy="525.2" r="1.25"/><circle cx="628.39" cy="525.2" r="1.25"/><circle cx="633.13" cy="525.2" r="1.25"/><circle cx="637.87" cy="525.2" r="1.25"/><circle cx="642.61" cy="525.2" r="1.25"/><circle cx="647.35" cy="525.2" r="1.25"/><circle cx="652.10" cy="525.2" r="1.25"/><circle cx="656.84" cy="525.2" r="1.25"/><circle cx="661.58" cy="525.2" r="1.25"/><circle cx="666.32" cy="525.2" r="1.25"/><circle cx="671.06" cy="525.2" r="1.25"/><circle cx="675.80" cy="525.2" r="1.25"/><circle cx="680.54" cy="525.2" r="1.25"/><circle cx="685.29" cy="525.2" r="1.25"/><circle cx="690.03" cy="525.2" r="1.25"/><circle cx="694.77" cy="525.2" r="1.25"/><circle cx="699.51" cy="525.2" r="1.25"/><circle cx="704.25" cy="525.2" r="1.25"/><circle cx="708.99" cy="525.2" r="1.25"/></g></svg>
<div class="rx rxs" style="left:413px;top:321.7px;transform:scale(0.649,0.644);"><div class="btn" style="top:17px;height:7px"></div><div class="btn" style="top:27px;height:14px"></div><div class="bar"></div><svg viewBox="0 0 26 15"><g fill="none" stroke="#f0f0f0" stroke-width="1.6" stroke-linecap="round"><path d="M2.55,1.0L7.55,1.0M8.1,1.55L8.1,7.15M2.55,7.7L7.55,7.7M2.0,8.25L2.0,13.75M2.55,14.3L7.55,14.3M12.950000000000001,1.0L18.15,1.0M12.4,1.55L12.4,7.15M12.950000000000001,7.7L18.15,7.7M12.4,8.25L12.4,13.75M18.7,8.25L18.7,13.75M12.950000000000001,14.3L18.15,14.3"/><circle cx="21.3" cy="0.7" r="0.55" stroke-width="0.75"/><path d="M24.7,1.7Q24,1 23.2,1.2Q22.3,1.6 22.4,3.1Q22.5,4.6 23.4,4.7Q24.1,4.8 24.7,4.2" stroke-width="0.95"/></g></svg></div>
<div class="tx" style="left:611px;top:313.8px;transform:scale(0.63,0.638);"><div class="grille"></div><div class="led"></div></div>
<div class="rx rxs" style="left:603.5px;top:441.4px;transform:scale(0.643,0.637);"><div class="btn" style="top:17px;height:7px"></div><div class="btn" style="top:27px;height:14px"></div><div class="bar"></div><svg viewBox="0 0 26 15"><g fill="none" stroke="#f0f0f0" stroke-width="1.6" stroke-linecap="round"><path d="M2.55,1.0L7.55,1.0M8.1,1.55L8.1,7.15M2.55,7.7L7.55,7.7M2.0,8.25L2.0,13.75M2.55,14.3L7.55,14.3M12.950000000000001,1.0L18.15,1.0M12.4,1.55L12.4,7.15M12.950000000000001,7.7L18.15,7.7M12.4,8.25L12.4,13.75M18.7,8.25L18.7,13.75M12.950000000000001,14.3L18.15,14.3"/><circle cx="21.3" cy="0.7" r="0.55" stroke-width="0.75"/><path d="M24.7,1.7Q24,1 23.2,1.2Q22.3,1.6 22.4,3.1Q22.5,4.6 23.4,4.7Q24.1,4.8 24.7,4.2" stroke-width="0.95"/></g></svg></div>
<div class="tx" style="left:64.4px;top:559px;"><div class="grille"></div><div class="led"></div></div>
<div class="tx" style="left:128px;top:559px;"><div class="grille"></div><div class="led"></div></div>
<div class="plus" style="left:207.7px;top:590.8px;"></div>
<div class="rx" style="left:265.3px;top:544.5px;"><div class="btn" style="top:17px;height:7px"></div><div class="btn" style="top:27px;height:14px"></div><div class="bar"></div><svg viewBox="0 0 26 15"><g fill="none" stroke="#f0f0f0" stroke-width="1.6" stroke-linecap="round"><path d="M2.55,1.0L7.55,1.0M8.1,1.55L8.1,7.15M2.55,7.7L7.55,7.7M2.0,8.25L2.0,13.75M2.55,14.3L7.55,14.3M12.950000000000001,1.0L18.15,1.0M12.4,1.55L12.4,7.15M12.950000000000001,7.7L18.15,7.7M12.4,8.25L12.4,13.75M18.7,8.25L18.7,13.75M12.950000000000001,14.3L18.15,14.3"/><circle cx="21.3" cy="0.7" r="0.55" stroke-width="0.75"/><path d="M24.7,1.7Q24,1 23.2,1.2Q22.3,1.6 22.4,3.1Q22.5,4.6 23.4,4.7Q24.1,4.8 24.7,4.2" stroke-width="0.95"/></g></svg></div>
<div class="tx" style="left:425.3px;top:537.5px;transform:scale(0.643,0.638);"><div class="grille"></div><div class="led"></div></div>
<div class="rx rxs" style="left:553.8px;top:656.7px;transform:scale(0.637,0.638);"><div class="btn" style="top:17px;height:7px"></div><div class="btn" style="top:27px;height:14px"></div><div class="bar"></div><svg viewBox="0 0 26 15"><g fill="none" stroke="#f0f0f0" stroke-width="1.6" stroke-linecap="round"><path d="M2.55,1.0L7.55,1.0M8.1,1.55L8.1,7.15M2.55,7.7L7.55,7.7M2.0,8.25L2.0,13.75M2.55,14.3L7.55,14.3M12.950000000000001,1.0L18.15,1.0M12.4,1.55L12.4,7.15M12.950000000000001,7.7L18.15,7.7M12.4,8.25L12.4,13.75M18.7,8.25L18.7,13.75M12.950000000000001,14.3L18.15,14.3"/><circle cx="21.3" cy="0.7" r="0.55" stroke-width="0.75"/><path d="M24.7,1.7Q24,1 23.2,1.2Q22.3,1.6 22.4,3.1Q22.5,4.6 23.4,4.7Q24.1,4.8 24.7,4.2" stroke-width="0.95"/></g></svg></div>
<div class="tx" style="left:682px;top:636px;transform:scale(0.64,0.638);"><div class="grille"></div><div class="led"></div></div>
<div class="blue" style="left:39.93px;top:243.86px;font-size:21.6px;line-height:26px;transform:scaleX(0.9794);transform-origin:0 0;">Suitable for small residential or</div>
<div class="blue" style="left:88.13px;top:270.86px;font-size:21.6px;line-height:26px;transform:scaleX(0.9894);transform-origin:0 0;">hotel style apartments</div>
<div class="blue" style="left:74.92px;top:461.06px;font-size:21.6px;line-height:26px;transform:scaleX(0.9830);transform-origin:0 0;">Suitable for two story or</div>
<div class="blue" style="left:46.15px;top:487.06px;font-size:21.6px;line-height:26px;transform:scaleX(0.9752);transform-origin:0 0;">large area residential buildings</div>
<div class="blue" style="left:20.07px;top:676.06px;font-size:21.6px;line-height:26px;transform:scaleX(0.8965);transform-origin:0 0;">Suitable for two or more residences or</div>
<div class="blue" style="left:63.70px;top:702.86px;font-size:21.6px;line-height:26px;transform:scaleX(0.8947);transform-origin:0 0;">installed in a guardian's room</div>
</body></html>
